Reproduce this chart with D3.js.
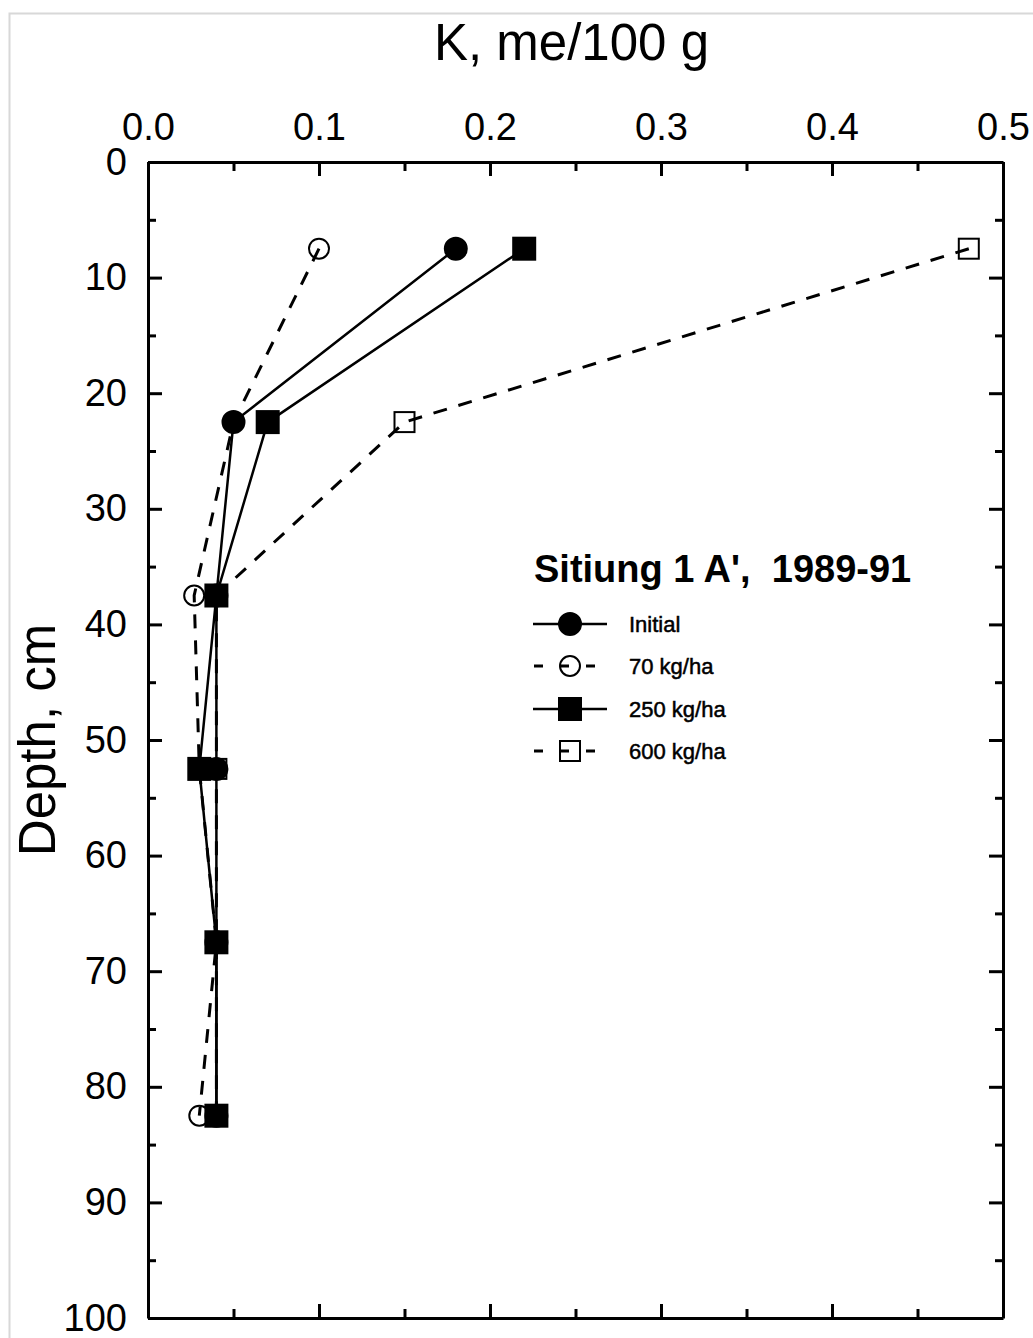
<!DOCTYPE html>
<html>
<head>
<meta charset="utf-8">
<script src="https://cdn.jsdelivr.net/npm/d3@7"></script>
<style>
  html, body { margin: 0; padding: 0; background: #fff; }
  svg { display: block; font-family: "Liberation Sans", Arial, sans-serif; }
</style>
</head>
<body>
<svg id="chart" width="1033" height="1338"></svg>
<script>
// Soil K profile, Sitiung 1 A', 1989-91
const depths = [7.5, 22.5, 37.5, 52.5, 67.5, 82.5];
const kInitial = [0.18, 0.05, 0.04, 0.04, 0.04, 0.04];
const k70 = [0.10, 0.05, 0.027, 0.03, 0.04, 0.03];
const k250 = [0.22, 0.07, 0.04, 0.03, 0.04, 0.04];
const k600 = [0.48, 0.15, 0.04, 0.04, 0.04, 0.04];
const seriesLabels = ["Initial", "70 kg/ha", "250 kg/ha", "600 kg/ha"];
const xTicks = [0.0, 0.1, 0.2, 0.3, 0.4, 0.5];
const yTicks = [0, 10, 20, 30, 40, 50, 60, 70, 80, 90, 100];

const series = [
  { name: seriesLabels[0], values: kInitial, marker: "circle", filled: true,  dashed: false },
  { name: seriesLabels[1], values: k70,      marker: "circle", filled: false, dashed: true },
  { name: seriesLabels[2], values: k250,     marker: "square", filled: true,  dashed: false },
  { name: seriesLabels[3], values: k600,     marker: "square", filled: false, dashed: true }
];

const svg = d3.select("#chart");
const plotL = 148, plotR = 1003, plotT = 162, plotB = 1318;

// faint outer frame
svg.append("path").attr("d", `M9.5,1338 V13.5 H1033`)
  .attr("fill", "none").attr("stroke", "#d8d8d8").attr("stroke-width", 2);

const x = d3.scaleLinear().domain([0, 0.5]).range([plotL, plotR]);
const y = d3.scaleLinear().domain([0, 100]).range([plotT, plotB]);

const minorX = d3.range(0.05, 0.5, 0.1);
const minorY = d3.range(5, 100, 10);

function styleAxis(g, fs) {
  g.select(".domain").attr("stroke", "#000").attr("stroke-width", 3);
  g.selectAll(".tick line").attr("stroke", "#000").attr("stroke-width", 3);
  g.selectAll(".tick text").attr("fill", "#000").style("font-size", fs + "px");
}

// top axis with labels
const gTop = svg.append("g").attr("transform", `translate(0,${plotT})`)
  .call(d3.axisTop(x).tickValues(xTicks).tickFormat(d3.format(".1f"))
    .tickSizeInner(-14).tickSizeOuter(0).tickPadding(22));
styleAxis(gTop, 38);
svg.append("g").attr("transform", `translate(0,${plotT})`)
  .call(d3.axisTop(x).tickValues(minorX).tickFormat("").tickSizeInner(-9).tickSizeOuter(0))
  .call(g => { g.select(".domain").remove(); styleAxis(g, 0); });

// bottom axis (ticks only)
const gBot = svg.append("g").attr("transform", `translate(0,${plotB})`)
  .call(d3.axisBottom(x).tickValues(xTicks).tickFormat("").tickSizeInner(-14).tickSizeOuter(0));
styleAxis(gBot, 0);
svg.append("g").attr("transform", `translate(0,${plotB})`)
  .call(d3.axisBottom(x).tickValues(minorX).tickFormat("").tickSizeInner(-9).tickSizeOuter(0))
  .call(g => { g.select(".domain").remove(); styleAxis(g, 0); });

// left axis with labels
const gLeft = svg.append("g").attr("transform", `translate(${plotL},0)`)
  .call(d3.axisLeft(y).tickValues(yTicks).tickSizeInner(-14).tickSizeOuter(0).tickPadding(21));
styleAxis(gLeft, 38);
svg.append("g").attr("transform", `translate(${plotL},0)`)
  .call(d3.axisLeft(y).tickValues(minorY).tickFormat("").tickSizeInner(-8).tickSizeOuter(0))
  .call(g => { g.select(".domain").remove(); styleAxis(g, 0); });

// right axis (ticks only)
const gRight = svg.append("g").attr("transform", `translate(${plotR},0)`)
  .call(d3.axisRight(y).tickValues(yTicks).tickFormat("").tickSizeInner(-14).tickSizeOuter(0));
styleAxis(gRight, 0);
svg.append("g").attr("transform", `translate(${plotR},0)`)
  .call(d3.axisRight(y).tickValues(minorY).tickFormat("").tickSizeInner(-8).tickSizeOuter(0))
  .call(g => { g.select(".domain").remove(); styleAxis(g, 0); });

// axis titles
svg.append("text").attr("x", (plotL + plotR) / 2 - 4).attr("y", 60)
  .attr("text-anchor", "middle").style("font-size", "51px").text("K, me/100 g");
svg.append("text").attr("transform", `translate(55,${(plotT + plotB) / 2}) rotate(-90)`)
  .attr("text-anchor", "middle").style("font-size", "51px").text("Depth, cm");

// profile lines
const line = d3.line().x(d => x(d[0])).y(d => y(d[1]));
const plot = svg.append("g");
series.forEach(s => {
  plot.append("path")
    .datum(s.values.map((v, i) => [v, depths[i]]))
    .attr("d", line)
    .attr("fill", "none").attr("stroke", "#000")
    .attr("stroke-width", s.dashed ? 3 : 2.5)
    .attr("stroke-dasharray", s.dashed ? "14,12" : null);
});

function drawMarker(g, s, cx, cy) {
  if (s.marker === "circle") {
    g.append("circle").attr("cx", cx).attr("cy", cy).attr("r", s.filled ? 11 : 10)
      .attr("fill", s.filled ? "#000" : "none").attr("stroke", "#000").attr("stroke-width", 2);
  } else {
    const h = s.filled ? 11 : 10;
    g.append("rect").attr("x", cx - h).attr("y", cy - h).attr("width", 2 * h).attr("height", 2 * h)
      .attr("fill", s.filled ? "#000" : "none").attr("stroke", "#000").attr("stroke-width", 2);
  }
}

// hollow markers first, filled markers on top
const order = [series[1], series[3], series[0], series[2]];
order.forEach(s => {
  s.values.forEach((v, i) => drawMarker(plot, s, x(v), y(depths[i])));
});

// legend
const leg = svg.append("g");
leg.append("text").attr("x", 534).attr("y", 582)
  .style("font-size", "38px").style("font-weight", "bold").style("white-space", "pre")
  .text("Sitiung 1 A',  1989-91");
const legRows = [624, 666, 709, 751];
series.forEach((s, i) => {
  const yy = legRows[i];
  leg.append("line").attr("x1", 533).attr("x2", 607).attr("y1", yy).attr("y2", yy)
    .attr("stroke", "#000").attr("stroke-width", s.dashed ? 3 : 2.5)
    .attr("stroke-dasharray", s.dashed ? "9,17" : null)
    .attr("stroke-dashoffset", s.dashed ? -1 : null);
  drawMarker(leg, s, 570, yy);
  leg.append("text").attr("x", 629).attr("y", yy + 8)
    .style("font-size", "22px").attr("stroke", "#000").attr("stroke-width", 0.5)
    .text(s.name);
});
</script>
</body>
</html>
